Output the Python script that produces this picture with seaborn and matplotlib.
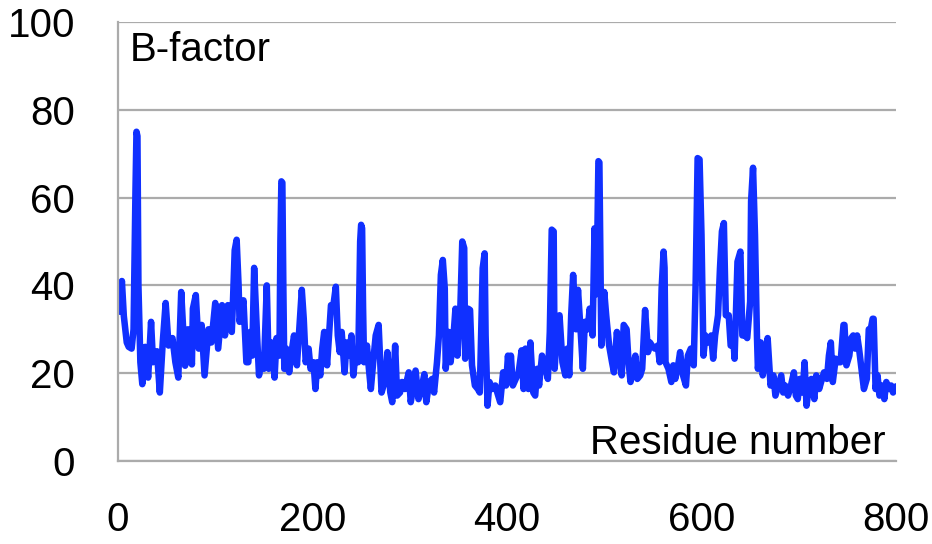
import matplotlib
matplotlib.use("Agg")
import matplotlib.pyplot as plt
import numpy as np
import pandas as pd
import seaborn as sns

# Values (residue number, B-factor)
residue = [
    1, 2, 4, 6, 9, 11, 14, 16, 18, 19, 20, 21, 23, 25, 28, 31, 34, 36, 40, 43,
    46, 49, 52, 56, 59, 62, 65, 69, 72, 76, 77, 80, 83, 86, 89, 93, 96, 100, 103, 107,
    110, 113, 117, 118, 120, 122, 124, 125, 129, 132,
    134, 136, 138, 140, 143, 145, 148, 150, 153, 155, 158, 161, 163, 166, 167, 168, 169, 170, 171, 173,
    176, 179, 181, 184, 186, 189, 191, 193, 196, 198, 201, 203, 205, 208, 210, 212, 215, 217, 219, 221,
    224, 226, 228, 230, 233, 235, 238, 240, 242, 244, 247, 249, 250, 251, 252, 253, 256, 258, 260, 263,
    265, 268,
    271, 275, 277, 280, 282, 285, 287, 290, 292, 295, 299, 301, 304, 306, 309, 312, 315, 317, 320, 323,
    325, 328, 330, 332, 334, 336, 337, 340, 342, 345, 347, 349, 352, 354, 356, 357, 360, 362, 364, 367,
    370, 372, 375, 377, 378, 380, 382, 385, 388, 390, 393, 396, 399, 401, 403,
    404, 406, 409, 412, 415, 417, 419, 422, 424, 427, 429, 431, 433, 436, 439, 442, 444, 446, 448, 449,
    452, 454, 457, 460, 462, 464, 466, 468, 471, 473, 476, 478, 480, 483, 485, 488, 490, 492, 494, 495,
    497, 500, 502, 505, 508, 510, 513, 515, 518, 520, 523, 525, 527, 530, 532,
    534, 537, 539, 542, 545, 547, 549, 552, 555, 557, 559, 561, 562, 563, 566, 569, 571, 573, 576, 578,
    581, 584, 586, 589, 592, 594, 596, 598, 600, 602, 604, 607, 610, 612, 614, 617, 619, 621, 623, 625,
    628, 630, 633, 634, 637, 640, 642, 645, 647, 650, 651, 653, 655, 657, 658, 661, 663, 666, 668,
    671, 674, 676, 679, 682, 684, 686, 689, 692, 695, 697, 699, 701, 704, 706, 708, 710, 713, 716, 718,
    721, 723, 726, 729, 731, 733, 735, 738, 741, 743, 746, 747, 749, 752, 754, 756, 758, 760, 762, 765,
    767, 770, 772, 774, 776, 777, 779, 781, 783, 786, 788, 790, 793, 795, 797, 800,
]
bfactor = [
    37, 34, 41, 33, 27, 26, 25.6, 30, 62, 75, 74, 40, 22.5, 17.5, 26, 19, 31.7, 22.5, 25, 15.6,
    27, 36, 26.3, 28, 22.5, 19, 38.5, 21.7, 30, 22, 34.7, 37.8, 25.6, 31, 19.5, 30, 27, 36, 25.6, 35.5,
    28.6, 35.5, 29.4, 35, 48, 50.4, 40, 31.7, 36.6, 22.5,
    22.5, 29.4, 24, 44, 28.6, 19.5, 24, 21, 40, 21, 27, 19, 28, 24, 50, 63.7, 63.4, 40, 21, 25.6,
    20.2, 25.6, 28.6, 21.8, 28.6, 39, 32.4, 22.5, 25.6, 21, 22.5, 16.4, 22.5, 19.5, 25.6, 29.4, 21.8, 28.6, 35.5, 34.7,
    39.7, 28.6, 24.8, 29.4, 20.2, 27, 24, 28.6, 19.5, 24, 22.5, 50, 53.8, 53, 35, 22.5, 26.3, 21, 16.4, 24,
    28.6, 31,
    15.6, 18.7, 24.8, 15.6, 13.4, 26.3, 14.9, 15.6, 18, 16.4, 20.2, 13.4, 17.2, 20.6, 14.1, 16.4, 19.8, 13.4, 18, 18.7,
    15.6, 22.5, 28.6, 42.4, 45.8, 39.3, 21, 29.4, 22.5, 28.6, 34.7, 24, 34.7, 50, 48.5, 23.3, 34.7, 34.4, 21.8, 17.2,
    16.4, 15.6, 43.9, 47.3, 28.6, 12.6, 18, 16.4, 17.2, 15.6, 13.4, 20.2, 17.2, 24, 18,
    24, 17.2, 18.7, 20.2, 25.2, 16.4, 25.6, 16.4, 27, 15.6, 14.9, 21, 17.2, 24, 21.8, 18.7, 29.4, 52.7, 52.3, 21,
    32.4, 33.2, 22.5, 19.5, 25.6, 19.5, 33.2, 42.4, 30, 39, 28.6, 21, 31.7, 30, 34.7, 28.6, 53, 38, 68.3, 68,
    26.3, 38.5, 33.2, 26.3, 22.5, 20.2, 29.4, 24.8, 19.5, 31, 30, 22.5, 18, 21.8, 24,
    18.7, 19.5, 21, 34.4, 24.8, 27, 26.3, 25.6, 26.3, 22.5, 39.3, 47.7, 44, 22.5, 21, 18, 21.8, 18.7, 21.8, 24.8,
    19.5, 17.2, 24, 25.6, 21.8, 40.8, 69, 68.7, 51.5, 24, 28.6, 27, 28.6, 23.3, 28.6, 33.2, 43.9, 52.3, 54.2, 33.2,
    33.2, 26.3, 27, 23.3, 45.4, 47.7, 28.6, 28.6, 28, 36.3, 59.2, 66.8, 51.5, 28.6, 21, 27, 19.5, 24, 28,
    17.2, 19.5, 14.9, 17.2, 19.5, 15.6, 17.2, 14.9, 17.2, 20.2, 14.9, 14.1, 18.7, 15.6, 22.5, 12.6, 16.4, 18.7, 14.1, 19.5,
    16.4, 18, 20.2, 18.7, 24, 27, 18, 23.3, 22.5, 22.5, 31, 31, 21.8, 24, 28, 28.6, 25.6, 28.6, 25.6, 20.2,
    16.4, 18.7, 30, 30, 32.4, 32.4, 16.4, 19.5, 14.9, 17.2, 14.1, 18, 16.4, 17.2, 15.6, 17,
]
x_ticks = [0, 200, 400, 600, 800]
y_ticks = [0, 20, 40, 60, 80, 100]
y_title = "B-factor"
x_title = "Residue number"

sns.set_theme(style="white")
plt.rcParams["font.family"] = ["Liberation Sans", "DejaVu Sans"]

W, H = 932, 544
fig = plt.figure(figsize=(W / 100, H / 100), dpi=100)
left, right, top, bottom = 118, 896, 22, 461
ax = fig.add_axes([left / W, 1 - bottom / H, (right - left) / W, (bottom - top) / H])

df = pd.DataFrame({"Residue": residue, "B": bfactor})
sns.lineplot(data=df, x="Residue", y="B", ax=ax, color="#1030FF", linewidth=4.7,
             estimator=None, sort=False, solid_joinstyle="round", solid_capstyle="round")

ax.set_xlim(0, 800)
ax.set_ylim(0, 100)
ax.set_xticks(x_ticks)
ax.set_yticks(y_ticks)
grid_c = "#ABABAB"
ax.grid(axis="y", color=grid_c, linewidth=1.6)
ax.grid(axis="x", visible=False)
ax.set_axisbelow(True)
for s in ["top", "right"]:
    ax.spines[s].set_visible(False)
for s in ["left", "bottom"]:
    ax.spines[s].set_color(grid_c)
    ax.spines[s].set_linewidth(1.6)
ax.tick_params(axis="both", direction="out", length=9, width=1.6, color=grid_c,
               labelsize=29, labelcolor="black")
ax.tick_params(axis="x", pad=20)
ax.tick_params(axis="y", pad=22)
ax.set_xlabel("")
ax.set_ylabel("")

ax.text(12, 91.2, y_title, fontsize=29, ha="left", va="baseline", color="black")
ax.text(789, 1.5, x_title, fontsize=29, ha="right", va="baseline", color="black")

fig.savefig("out.png", dpi=100)
